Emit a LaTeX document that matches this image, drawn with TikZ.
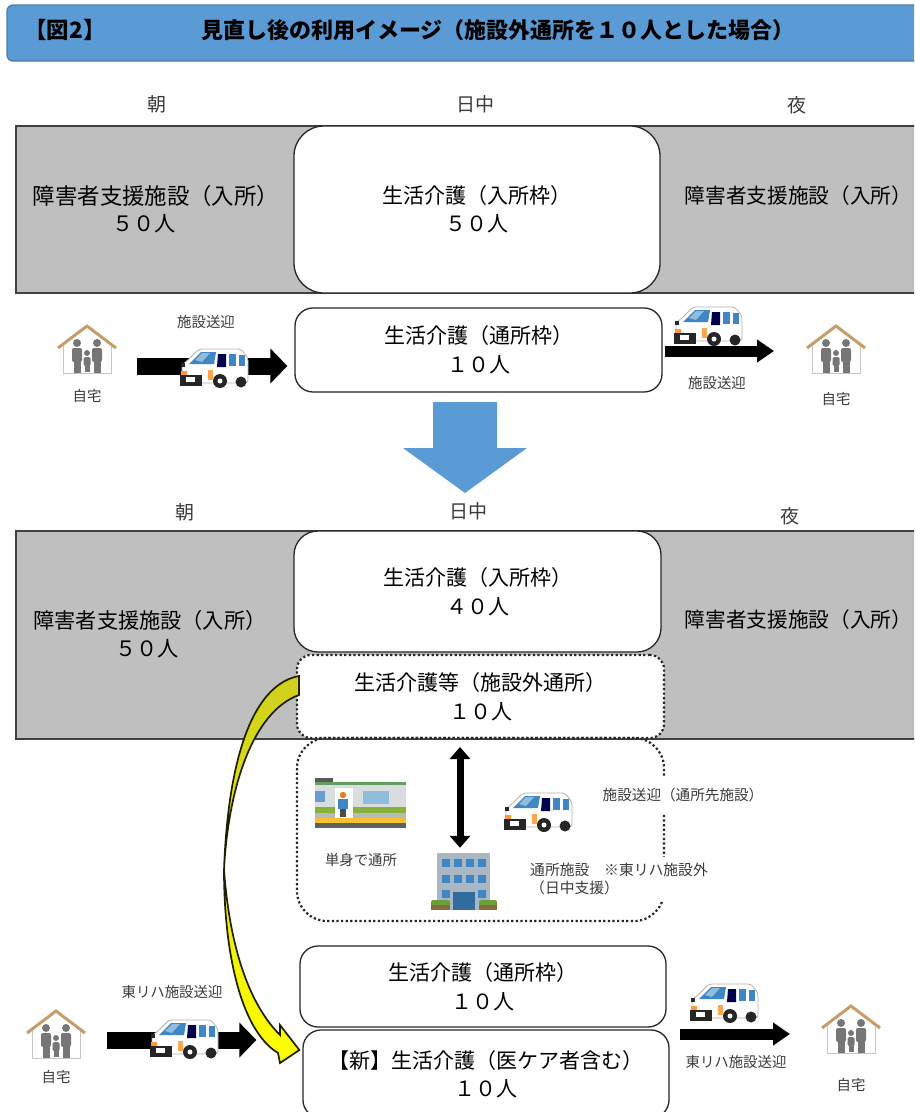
\documentclass[tikz,border=0pt]{standalone}
\usepackage{fontspec}
\setmainfont{Noto Sans CJK JP}
\usetikzlibrary{arrows.meta,calc}
\definecolor{headblue}{HTML}{5B9BD5}
\definecolor{bandgray}{HTML}{BFBFBF}
\definecolor{edgedark}{HTML}{404040}
\definecolor{roofbrown}{HTML}{C89C6A}
\definecolor{figgray}{HTML}{767676}
\definecolor{winblue}{HTML}{3F86C4}
\definecolor{palewin}{HTML}{8FBEDD}
\definecolor{trainbody}{HTML}{D9DDDD}
\definecolor{traingreen}{HTML}{86B33C}
\definecolor{trainyellow}{HTML}{F2C230}
\definecolor{officegray}{HTML}{A9B7C4}
\definecolor{bushbrown}{HTML}{8A6A3A}
\definecolor{bushgreen}{HTML}{6E9E3C}
\definecolor{oliveedge}{HTML}{1E1E00}
\definecolor{oliveyellow}{HTML}{CFCF1E}
\definecolor{labelgray}{HTML}{3A3A3A}
\begin{document}
\begin{tikzpicture}[
    x=1pt, y=-1pt,
    grayband/.style={draw=edgedark, fill=bandgray, line width=1.5pt, inner sep=0pt},
    slotbox/.style={draw=black!85, fill=white, line width=1.3pt, inner sep=0pt, align=center,
      font=\fontsize{21}{28.5}\selectfont},
    dotbox/.style={draw=black!85, line width=2.2pt, dash pattern=on 2.2pt off 2.4pt, inner sep=0pt},
    bandtext/.style={inner sep=0pt, font=\fontsize{21.2}{28.5}\selectfont},
    timetext/.style={text=labelgray, font=\fontsize{19}{21}\selectfont},
    smalltext/.style={text=labelgray, inner sep=1pt, font=\fontsize{14.4}{19}\selectfont},
    blockarrow/.style={line width=#1, -{Triangle[length=17pt,width=2.0*#1]}},
    homespot/.style={minimum width=60pt, minimum height=50pt, inner sep=0pt},
    vanspot/.style={minimum width=68pt, minimum height=39pt, inner sep=0pt},
    home/.pic={
      \draw[gray!45, line width=0.8pt] (-24,-5) -- (-24,23) -- (24,23) -- (24,-5);
      \draw[roofbrown, line width=3pt] (-29,-2) -- (0,-24) -- (29,-2);
      \foreach \px in {-10,10} {
        \fill[figgray] (\px,-7) circle (4pt);
        \fill[figgray, rounded corners=2pt] (\px-5,-2) rectangle (\px+5,12);
        \fill[figgray] (\px-3.5,11) rectangle (\px+3.5,23);
      }
      \fill[figgray] (0,3) circle (3pt);
      \fill[figgray, rounded corners=1.5pt] (-3.5,7) rectangle (3.5,16);
      \fill[figgray] (-2.5,15) rectangle (2.5,22);
    },
    van/.pic={
      \draw[gray!60, fill=white, line width=0.8pt, rounded corners=3pt]
        (-32,15) -- (-32,-3) -- (-25,-9) -- (-15,-19) -- (27,-19) -- (34,-10) -- (34,15) -- cycle;
      \fill[winblue] (-25,-4) -- (-13,-16) -- (2,-16) -- (0,-4) -- cycle;
      \fill[palewin] (-19,-8) -- (-12,-15) -- (-4,-15) -- (-12,-6) -- cycle;
      \fill[black!70!blue] (4,-14) -- (12,-14) -- (12,-1) -- (3,-1) -- cycle;
      \fill[winblue] (15,-14) rectangle (22,-2);
      \fill[winblue] (25,-13) rectangle (31,-2);
      \fill[orange!70] (-6,2) rectangle (-1,12);
      \fill[black!85] (-34,7) rectangle (-12,18);
      \fill[white] (-28,9) rectangle (-19,14);
      \fill[orange!80] (-33,3) rectangle (-27,7);
      \fill[black!85] (6,13) circle (7pt);
      \fill[white] (6,13) circle (2.5pt);
      \fill[black!85] (27,14) circle (5.5pt);
      \fill[black!85] (-33,-5) rectangle (-29,-1);
    },
    train/.pic={
      \fill[black!65] (-46,-24) rectangle (-28,-20);
      \fill[gray!75!green] (-46,-20) rectangle (45,-17);
      \fill[trainbody] (-46,-17) rectangle (45,5);
      \fill[traingreen] (-46,5) rectangle (45,11);
      \fill[gray!55] (-46,11) rectangle (45,16);
      \fill[trainyellow] (-46,16) rectangle (45,21);
      \fill[gray!75!black] (-46,21) rectangle (45,26);
      \fill[winblue!80] (-46,-11) rectangle (-36,0);
      \fill[palewin] (2,-11) rectangle (28,2);
      \fill[white] (-26,-14) rectangle (-8,16);
      \fill[orange!50!brown] (-18,-7) circle (3.2pt);
      \fill[winblue] (-23,-3) rectangle (-13,7);
      \fill[black!70] (-21,7) rectangle (-15,15);
    },
    office/.pic={
      \fill[officegray] (-26,-28) rectangle (27,29);
      \foreach \wy in {-22,-6} {
        \foreach \wx in {-21,-9,3,15} {
          \fill[winblue] (\wx,\wy) rectangle ++(8,8);
        }
      }
      \foreach \wx in {-21,15} {
        \fill[winblue] (\wx,9) rectangle ++(8,8);
      }
      \fill[winblue!80!black] (-10,11) rectangle (12,29);
      \fill[bushgreen, rounded corners=2pt] (-32,19) rectangle (-13,26);
      \fill[bushbrown] (-32,24) rectangle (-13,29);
      \fill[bushgreen, rounded corners=2pt] (16,19) rectangle (34,26);
      \fill[bushbrown] (16,24) rectangle (34,29);
    }
  ]

  \useasboundingbox (0,0) rectangle (914,1112);
  \clip (0,0) rectangle (914,1112);

  % Title bar
  \node[draw=headblue!80!black, fill=headblue, line width=1.2pt, rounded corners=6pt,
    minimum width=940pt, minimum height=56pt, inner sep=0pt] (header) at (477,33) {};
  \node[font=\bfseries\fontsize{22.5}{24}\selectfont, inner sep=0pt] (figno) at (65,30) {【図2】};
  \node[font=\bfseries\fontsize{22}{24}\selectfont, inner sep=0pt] (title) at (498,30)
    {見直し後の利用イメージ（施設外通所を１０人とした場合）};

  % Upper half
  \node[timetext] (mornA) at (157,104) {朝};
  \node[timetext] (noonA) at (475,104) {日中};
  \node[timetext] (nightA) at (797,105) {夜};

  \node[grayband, minimum width=924pt, minimum height=167pt] (bandA) at (478,209.5) {};
  \node[bandtext, font=\fontsize{22.4}{28.5}\selectfont] (leftA) at (156,196) {障害者支援施設（入所）};
  \node[bandtext] (leftAn) at (144,224) {５０人};
  \node[bandtext, font=\fontsize{20.7}{28.5}\selectfont] (rightA) at (798.5,196) {障害者支援施設（入所）};
  \node[slotbox, rounded corners=30pt, minimum width=366pt, minimum height=167pt] (stayA) at (477,209.5)
    {生活介護（入所枠）\\５０人};
  \node[slotbox, rounded corners=18pt, minimum width=367pt, minimum height=84pt] (dayA) at (478.5,350)
    {生活介護（通所枠）\\１０人};

  \node[homespot] (homeA) at (87,350) {};
  \pic at (homeA) {home};
  \node[smalltext] (homelabA) at (87,396) {自宅};
  \node[smalltext] (busA) at (206,322) {施設送迎};
  \coordinate (arrowA) at (137,366);
  \draw[blockarrow=17pt, shorten >=7pt] (arrowA) -- (arrowA -| dayA.west);
  \node[vanspot] (vanA) at (214,368) {};
  \pic at (vanA) {van};

  \coordinate (arrowB) at (774,351);
  \draw[blockarrow=11pt, shorten <=2pt] (arrowB -| dayA.east) -- (arrowB);
  \node[vanspot] (vanB) at (708,326) {};
  \pic at (vanB) {van};
  \node[smalltext] (busB) at (717,383) {施設送迎};
  \node[homespot] (homeB) at (836,350) {};
  \pic at (homeB) {home};
  \node[smalltext] (homelabB) at (836,399) {自宅};

  % Big arrow between the halves
  \fill[headblue] (433,402) -- (497,402) -- (497,448) -- (527,448) -- (465,493) -- (403,448) -- (433,448) -- cycle;

  % Lower half
  \node[timetext] (mornB) at (185,512) {朝};
  \node[timetext] (noonB) at (468,511) {日中};
  \node[timetext] (nightB) at (790,516) {夜};

  \node[grayband, minimum width=924pt, minimum height=208pt] (bandB) at (478,635) {};
  \node[bandtext] (leftB) at (150,620) {障害者支援施設（入所）};
  \node[bandtext] (leftBn) at (147,649) {５０人};
  \node[bandtext, font=\fontsize{20.7}{28.5}\selectfont] (rightB) at (798.5,620) {障害者支援施設（入所）};
  \node[slotbox, rounded corners=24pt, minimum width=367pt, minimum height=121pt] (stayB) at (477.5,591.5)
    {生活介護（入所枠）\\４０人};
  \node[dotbox, fill=white, align=center, rounded corners=14pt, minimum width=367pt, minimum height=83pt,
    font=\fontsize{21}{28.5}\selectfont, text=black] (outside) at (480.5,696.5)
    {生活介護等（施設外通所）\\１０人};
  \node[dotbox, rounded corners=30pt, minimum width=367pt, minimum height=183pt] (trip) at (480.5,829.5) {};

  \node[minimum width=93pt, minimum height=51pt, inner sep=0pt] (rail) at (361,802) {};
  \pic at (rail) {train};
  \node[smalltext] (raillab) at (361,860) {単身で通所};
  \node[minimum width=67pt, minimum height=58pt, inner sep=0pt] (center) at (463,881) {};
  \pic at (center) {office};
  \coordinate (tripup) at (460,747);
  \draw[line width=7pt, {Triangle[length=12pt,width=20pt]}-{Triangle[length=12pt,width=20pt]}, shorten >=4pt]
    (tripup) -- (tripup |- center.north);
  \node[vanspot] (vanC) at (538,812) {};
  \pic at (vanC) {van};
  \node[smalltext, fill=white, minimum height=36pt, font=\fontsize{14.6}{19}\selectfont] (buslab) at (683,795) {施設送迎（通所先施設）};
  \node[smalltext, fill=white, align=left, anchor=north west, inner ysep=6pt, font=\fontsize{14.8}{18}\selectfont] (centerlab) at (529,857)
    {通所施設　※東リハ施設外\\（日中支援）};

  \node[slotbox, rounded corners=18pt, minimum width=366pt, minimum height=81pt] (dayB) at (483,986.5)
    {生活介護（通所枠）\\１０人};
  \node[slotbox, rounded corners=18pt, minimum width=366pt, minimum height=88pt] (newday) at (486,1074)
    {【新】生活介護（医ケア者含む）\\１０人};

  \node[homespot] (homeC) at (56,1035) {};
  \pic at (homeC) {home};
  \node[smalltext] (homelabC) at (56,1077) {自宅};
  \node[smalltext] (busC) at (172,992) {東リハ施設送迎};
  \coordinate (arrowC) at (107,1040);
  \draw[blockarrow=17pt, shorten >=46pt] (arrowC) -- (arrowC -| newday.west);
  \node[vanspot] (vanD) at (184,1039) {};
  \pic at (vanD) {van};

  \coordinate (arrowD) at (790,1034);
  \draw[blockarrow=11pt, shorten <=10pt] (arrowD -| newday.east) -- (arrowD);
  \node[vanspot] (vanE) at (724,1003) {};
  \pic at (vanE) {van};
  \node[smalltext] (busD) at (736,1062) {東リハ施設送迎};
  \node[homespot] (homeD) at (851,1030) {};
  \pic at (homeD) {home};
  \node[smalltext] (homelabD) at (851,1085) {自宅};

  % Curved arrow from the outside slot down to the new slot
  \draw[draw=oliveedge, line width=1.7pt, line join=miter, top color=oliveyellow, bottom color=yellow]
    ($(outside.west)+(3,-20.5)$) .. controls (252,685) and (228,760) .. (224,870)
    .. controls (230,950) and (250,1005) .. (280,1035) -- (280,1025)
    -- ($(newday.west)+(-3,-24)$) -- (280,1063) -- (278,1053)
    .. controls (240,1030) and (224,950) .. (224,870)
    .. controls (228,790) and (252,712) .. ($(outside.west)+(3,-1.5)$) -- cycle;

\end{tikzpicture}
\end{document}
